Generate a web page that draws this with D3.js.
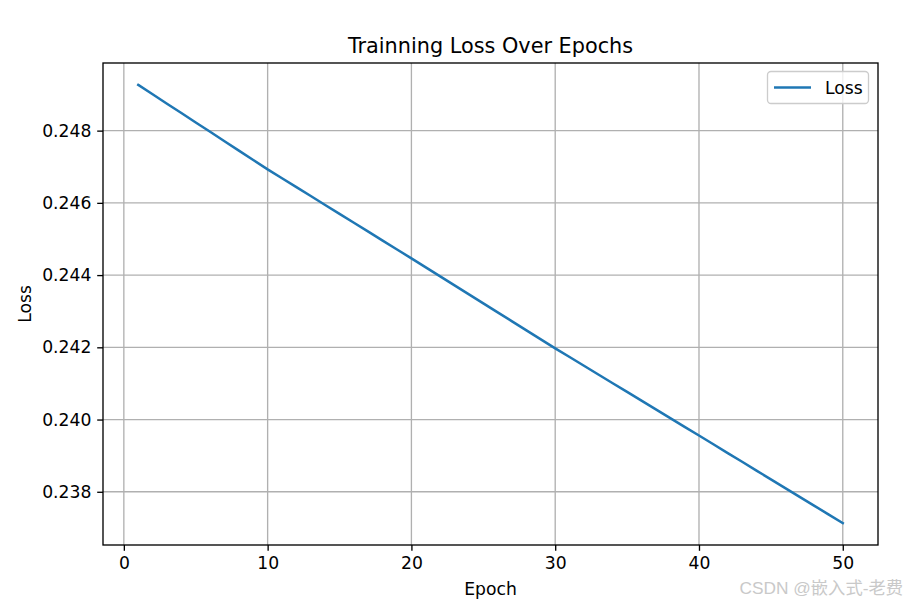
<!DOCTYPE html>
<html>
<head>
<meta charset="utf-8">
<script src="https://cdn.jsdelivr.net/npm/d3@7"></script>
<style>
  html, body { margin: 0; padding: 0; background: #ffffff; }
  svg { display: block; font-family: "DejaVu Sans", sans-serif; }
</style>
</head>
<body>
<svg id="chart" width="906" height="603"></svg>
<script>
// ---- data ----
const epochs = d3.range(1, 51);
const lossValues = [
  0.249266, 0.249006, 0.248746, 0.248487, 0.248227, 0.247967, 0.247707, 0.247447, 0.247188, 0.246928,
  0.246682, 0.246435, 0.246189, 0.245942, 0.245696, 0.245449, 0.245203, 0.244956, 0.244710, 0.244463,
  0.244214, 0.243965, 0.243716, 0.243467, 0.243218, 0.242968, 0.242719, 0.242470, 0.242221, 0.241972,
  0.241731, 0.241489, 0.241248, 0.241006, 0.240765, 0.240523, 0.240282, 0.240040, 0.239799, 0.239557,
  0.239315, 0.239072, 0.238830, 0.238587, 0.238345, 0.238103, 0.237860, 0.237618, 0.237375, 0.237133
];
const xTicks = [0, 10, 20, 30, 40, 50];
const yTicks = [0.238, 0.240, 0.242, 0.244, 0.246, 0.248];
const titleText = "Trainning Loss Over Epochs";
const xLabelText = "Epoch";
const yLabelText = "Loss";
const legendLabel = "Loss";
const watermarkText = "CSDN @嵌入式-老费";

// ---- layout ----
(function () {
const svg = d3.select("#chart");
const pL = 103, pR = 878, pT = 63, pB = 545;
const lineColor = "#1f77b4";
const tickFont = 17.2;

const xExt = d3.extent(epochs), xPad = (xExt[1] - xExt[0]) * 0.05;
const yExt = d3.extent(lossValues), yPad = (yExt[1] - yExt[0]) * 0.05;
const x = d3.scaleLinear().domain([xExt[0] - xPad, xExt[1] + xPad]).range([pL, pR]);
const y = d3.scaleLinear().domain([yExt[0] - yPad, yExt[1] + yPad]).range([pB, pT]);

// grid
const grid = svg.append("g");
grid.selectAll(".gx").data(xTicks).enter().append("line")
  .attr("x1", d => x(d)).attr("x2", d => x(d)).attr("y1", pT).attr("y2", pB)
  .attr("stroke", "#b0b0b0").attr("stroke-width", 1.33);
grid.selectAll(".gy").data(yTicks).enter().append("line")
  .attr("y1", d => y(d)).attr("y2", d => y(d)).attr("x1", pL).attr("x2", pR)
  .attr("stroke", "#b0b0b0").attr("stroke-width", 1.33);

// line
const line = d3.line().x((d, i) => x(epochs[i])).y(d => y(d));
svg.append("path").datum(lossValues)
  .attr("d", line).attr("fill", "none")
  .attr("stroke", lineColor).attr("stroke-width", 2.5)
  .attr("stroke-linecap", "square");

// axes
const xAxis = d3.axisBottom(x).tickValues(xTicks).tickSize(5.8).tickPadding(5.8).tickFormat(d3.format("d"));
const yAxis = d3.axisLeft(y).tickValues(yTicks).tickSize(5.8).tickPadding(5.8).tickFormat(d3.format(".3f"));
const gx = svg.append("g").attr("transform", `translate(0,${pB})`).call(xAxis);
const gy = svg.append("g").attr("transform", `translate(${pL},0)`).call(yAxis);
[gx, gy].forEach(g => {
  g.select(".domain").remove();
  g.selectAll(".tick line").attr("stroke", "#000").attr("stroke-width", 1.33);
  g.selectAll(".tick text").attr("fill", "#000")
    .style("font-family", "DejaVu Sans").style("font-size", tickFont + "px");
});

// frame
svg.append("rect").attr("x", pL).attr("y", pT)
  .attr("width", pR - pL).attr("height", pB - pT)
  .attr("fill", "none").attr("stroke", "#000").attr("stroke-width", 1.33);

// title & labels
svg.append("text").attr("x", (pL + pR) / 2).attr("y", 53)
  .attr("text-anchor", "middle").style("font-size", "20.8px").text(titleText);
svg.append("text").attr("x", (pL + pR) / 2).attr("y", 595)
  .attr("text-anchor", "middle").style("font-size", tickFont + "px").text(xLabelText);
svg.append("text").attr("transform", `translate(31,${(pT + pB) / 2}) rotate(-90)`)
  .attr("text-anchor", "middle").style("font-size", tickFont + "px").text(yLabelText);

// legend
const lg = svg.append("g");
lg.append("rect").attr("x", 767.5).attr("y", 71.5).attr("width", 101).attr("height", 32)
  .attr("rx", 3.5).attr("fill", "#ffffff").attr("fill-opacity", 0.8)
  .attr("stroke", "#cccccc").attr("stroke-width", 1.33);
lg.append("line").attr("x1", 774).attr("x2", 811).attr("y1", 87.5).attr("y2", 87.5)
  .attr("stroke", lineColor).attr("stroke-width", 2.5);
lg.append("text").attr("x", 825).attr("y", 93.5).style("font-size", tickFont + "px").text(legendLabel);

// watermark
svg.append("text").attr("x", 903).attr("y", 594).attr("text-anchor", "end")
  .style("font-family", "'Liberation Sans', 'Noto Sans CJK SC', sans-serif")
  .style("font-size", "17.3px").attr("fill", "#c9c9c9").text(watermarkText);
})();
</script>
</body>
</html>
